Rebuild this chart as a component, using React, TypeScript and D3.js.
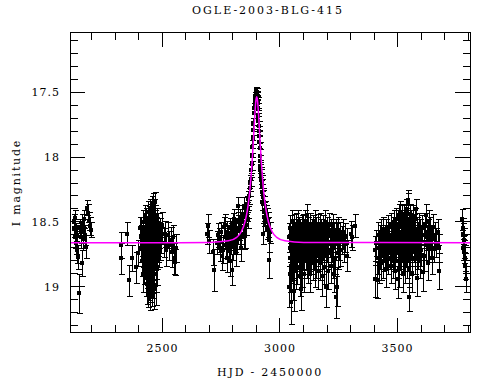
import React from "react";
import * as d3 from "d3";

const title = "OGLE-2003-BLG-415";
const xLabel = "HJD - 2450000";
const yLabel = "I magnitude";
const xMajorTicks = [2500, 3000, 3500];
const yMajorTicks = [17.5, 18, 18.5, 19];
const xTickLabels = ["2500", "3000", "3500"];
const yTickLabels = ["17.5", "18", "18.5", "19"];

// [HJD-2450000, I mag, error]
const season1 = [
  [2124,18.50,0.06],[2126,18.55,0.07],[2128,18.62,0.08],[2130,18.47,0.06],[2132,18.58,0.07],
  [2134,18.66,0.09],[2136,18.72,0.10],[2138,18.60,0.08],[2141,18.77,0.09],[2146,19.05,0.15],
  [2150,18.55,0.07],[2152,18.62,0.08],[2155,18.58,0.08],[2157,18.51,0.07],[2159,18.82,0.10],
  [2162,18.56,0.08],[2164,18.63,0.09],[2166,18.48,0.07],[2170,18.60,0.08],[2173,18.69,0.09],
  [2180,18.39,0.06],[2183,18.43,0.07],[2187,18.49,0.07],[2190,18.53,0.07],[2196,18.56,0.06],
];

const season2 = [
  [2322,18.78,0.12],[2326,18.68,0.10],[2351,18.59,0.09],[2359,18.95,0.12],[2371,18.78,0.10],
  [2388,18.85,0.12],[2398,18.74,0.10],[2404,18.55,0.09],
  [2410,18.62,0.10],[2410,18.70,0.11],[2411,18.55,0.09],
  [2413,18.66,0.10],[2414,18.80,0.12],
  [2416,18.58,0.09],[2417,18.74,0.11],[2416,18.90,0.14],
  [2419,18.50,0.09],[2420,18.68,0.10],
  [2422,18.63,0.10],[2423,18.77,0.11],[2422,18.85,0.13],
  [2425,18.45,0.08],[2426,18.60,0.10],[2425,18.72,0.11],
  [2428,18.55,0.09],[2429,18.68,0.10],[2428,18.82,0.12],[2429,18.93,0.14],
  [2431,18.48,0.09],[2432,18.62,0.10],[2431,18.75,0.11],
  [2434,18.58,0.09],[2435,18.70,0.11],[2434,18.88,0.13],[2435,18.98,0.15],
  [2437,18.42,0.08],[2438,18.66,0.10],[2437,18.79,0.12],[2438,18.93,0.14],
  [2440,18.52,0.09],[2441,18.64,0.10],[2440,18.73,0.11],[2441,18.86,0.13],[2440,19.01,0.15],
  [2443,18.47,0.09],[2444,18.60,0.10],[2443,18.69,0.11],[2444,18.81,0.12],[2443,18.96,0.14],
  [2446,18.40,0.08],[2447,18.56,0.09],[2446,18.72,0.11],[2447,18.90,0.14],[2446,19.03,0.15],
  [2449,18.50,0.09],[2450,18.63,0.10],[2449,18.77,0.11],[2450,18.84,0.13],[2449,18.98,0.14],
  [2452,18.44,0.08],[2453,18.58,0.09],[2452,18.67,0.10],[2453,18.79,0.12],[2452,18.94,0.14],
  [2455,18.38,0.08],[2456,18.53,0.09],[2455,18.65,0.10],[2456,18.74,0.11],[2455,18.88,0.13],[2456,19.00,0.15],
  [2458,18.48,0.09],[2459,18.61,0.10],[2458,18.70,0.11],[2459,18.83,0.12],[2458,18.95,0.14],
  [2461,18.36,0.08],[2462,18.52,0.09],[2461,18.66,0.10],[2462,18.78,0.12],[2461,18.91,0.14],
  [2464,18.40,0.08],[2465,18.57,0.09],[2464,18.69,0.10],[2465,18.86,0.13],[2464,19.02,0.15],
  [2467,18.35,0.08],[2468,18.50,0.09],[2467,18.63,0.10],[2468,18.76,0.11],
  [2470,18.45,0.08],[2471,18.60,0.10],[2470,18.72,0.11],[2471,18.90,0.14],
  [2473,18.55,0.09],[2474,18.68,0.10],[2473,18.82,0.12],[2474,18.99,0.15],
  [2476,18.48,0.09],[2477,18.62,0.10],[2476,18.75,0.11],
  [2479,18.58,0.09],[2480,18.70,0.11],[2479,18.86,0.13],
  [2482,18.52,0.09],[2483,18.66,0.10],
  [2486,18.60,0.10],[2487,18.74,0.11],
  [2490,18.56,0.09],[2491,18.69,0.10],
  [2494,18.64,0.10],
  [2500,18.52,0.10],[2505,18.66,0.11],[2511,18.59,0.10],[2515,18.72,0.12],[2522,18.60,0.10],
  [2529,18.68,0.11],[2535,18.64,0.10],[2541,18.73,0.12],[2545,18.62,0.10],[2550,18.78,0.12],
  [2553,18.81,0.10],[2556,18.70,0.11],
];

const season3 = [
  [2691,18.59,0.08],[2695,18.53,0.09],[2700,18.65,0.09],[2713,18.73,0.10],[2721,18.87,0.16],
  [2730,18.66,0.09],[2738,18.60,0.09],[2741,18.64,0.09],[2745,18.70,0.10],[2750,18.58,0.08],
  [2755,18.76,0.11],[2759,18.72,0.10],[2762,18.54,0.08],[2765,18.62,0.09],[2767,18.52,0.08],
  [2770,18.68,0.10],[2773,18.78,0.11],[2776,18.58,0.09],[2779,18.64,0.09],[2781,18.61,0.09],
  [2784,18.71,0.10],[2786,18.55,0.08],[2788,18.80,0.12],[2791,18.66,0.09],[2793,18.60,0.09],
  [2795,18.87,0.12],[2798,18.57,0.08],[2800,18.69,0.10],[2802,18.51,0.08],[2804,18.63,0.09],
  [2806,18.48,0.08],[2808,18.64,0.09],[2810,18.58,0.08],[2813,18.74,0.10],[2815,18.55,0.08],
  [2818,18.66,0.09],[2820,18.50,0.08],[2823,18.38,0.07],[2826,18.56,0.08],[2828,18.62,0.09],
  [2831,18.47,0.07],[2834,18.59,0.08],[2836,18.70,0.10],[2838,18.44,0.07],[2841,18.54,0.08],
  [2843,18.50,0.08],[2846,18.62,0.09],[2848,18.38,0.07],[2850,18.61,0.09],[2852,18.46,0.07],
  [2855,18.52,0.08],[2858,18.42,0.07],[2860,18.36,0.06],[2862,18.48,0.07],[2864,18.32,0.06],
  [2866,18.40,0.07],[2869,18.30,0.06],[2871,18.24,0.06],[2873,18.20,0.06],[2875,18.17,0.05],
  [2877,18.10,0.05],[2879,18.05,0.05],[2880,17.98,0.05],[2882,17.92,0.05],[2884,17.85,0.05],
  [2886,17.79,0.04],[2887,17.74,0.04],[2889,17.66,0.04],[2890,17.62,0.04],[2892,17.58,0.04],
  [2893,17.56,0.04],[2895,17.53,0.03],[2896,17.52,0.03],[2898,17.50,0.03],[2899,17.54,0.03],
  [2900,17.49,0.03],[2901,17.52,0.03],[2902,17.50,0.03],[2903,17.55,0.03],[2904,17.53,0.03],
  [2905,17.58,0.04],[2906,17.62,0.04],[2907,17.68,0.04],[2908,17.72,0.04],[2909,17.76,0.04],
  [2910,17.80,0.04],[2911,17.84,0.05],[2912,17.88,0.05],[2913,17.93,0.05],[2914,17.99,0.05],
  [2915,18.03,0.05],[2916,18.07,0.05],[2917,18.10,0.05],[2918,18.13,0.05],[2919,18.18,0.06],
  [2920,18.15,0.06],[2922,18.23,0.06],[2923,18.27,0.06],[2924,18.20,0.06],[2925,18.35,0.06],
  [2926,18.59,0.08],[2927,18.30,0.06],[2929,18.31,0.06],[2930,18.42,0.07],[2932,18.36,0.06],
  [2934,18.46,0.07],[2936,18.41,0.07],[2938,18.50,0.07],[2940,18.44,0.07],[2943,18.46,0.07],
  [2945,18.55,0.08],[2947,18.49,0.07],[2950,18.54,0.08],[2952,18.64,0.09],[2953,18.79,0.14],
  [2956,18.58,0.08],
];

const season4 = [
  [3040,18.62,0.11],[3041,18.78,0.12],[3040,19.00,0.16],
  [3043,18.55,0.10],[3044,18.70,0.11],[3043,18.90,0.14],
  [3046,18.66,0.11],[3047,18.84,0.13],[3046,19.12,0.17],
  [3049,18.58,0.10],[3050,18.72,0.12],
  [3052,18.50,0.09],[3053,18.64,0.11],[3052,18.80,0.13],
  [3055,18.60,0.10],[3056,18.75,0.12],[3055,18.95,0.15],
  [3058,18.68,0.11],[3058,19.03,0.16],
  [3061,18.54,0.10],[3062,18.66,0.11],[3061,18.82,0.13],
  [3064,18.62,0.11],[3065,18.76,0.12],
  [3067,18.58,0.10],[3068,18.70,0.11],[3067,18.88,0.14],
  [3070,18.52,0.09],[3071,18.65,0.11],
  [3073,18.60,0.10],[3074,18.74,0.12],[3073,18.85,0.13],
  [3076,18.50,0.09],[3077,18.68,0.11],
  [3079,18.56,0.10],[3080,18.63,0.11],[3079,18.79,0.12],
  [3082,18.66,0.11],[3083,18.92,0.15],
  [3085,18.58,0.10],[3086,18.72,0.12],
  [3089,18.62,0.11],[3090,18.80,0.13],[3089,19.02,0.16],
  [3092,18.55,0.10],[3093,18.68,0.11],
  [3095,18.60,0.10],[3096,18.74,0.12],[3095,18.86,0.14],
  [3098,18.53,0.09],[3099,18.66,0.11],
  [3101,18.64,0.11],[3102,18.78,0.12],
  [3104,18.58,0.10],[3105,18.70,0.11],[3104,18.90,0.14],
  [3108,18.50,0.09],[3109,18.66,0.11],
  [3111,18.62,0.11],[3112,18.75,0.12],
  [3114,18.45,0.09],[3115,18.60,0.10],[3114,18.80,0.13],
  [3117,18.66,0.11],[3118,18.72,0.12],
  [3120,18.56,0.10],[3121,18.70,0.11],[3120,18.84,0.13],
  [3124,18.60,0.10],[3125,18.76,0.12],
  [3128,18.52,0.09],[3129,18.68,0.11],[3128,18.90,0.14],
  [3131,18.64,0.11],[3132,18.78,0.12],
  [3135,18.58,0.10],[3136,18.70,0.11],
  [3139,18.55,0.10],[3140,18.66,0.11],[3139,18.82,0.13],
  [3143,18.62,0.11],[3144,18.74,0.12],
  [3147,18.50,0.09],[3148,18.68,0.11],[3147,18.86,0.14],
  [3151,18.60,0.10],[3152,18.72,0.12],
  [3155,18.56,0.10],[3156,18.66,0.11],[3155,18.80,0.13],
  [3159,18.62,0.11],[3160,18.76,0.12],
  [3163,18.54,0.10],[3164,18.70,0.11],[3163,18.88,0.14],
  [3167,18.60,0.10],[3168,18.74,0.12],
  [3171,18.52,0.09],[3172,18.66,0.11],[3171,18.82,0.13],
  [3175,18.58,0.10],[3176,18.70,0.11],
  [3179,18.62,0.11],[3180,18.78,0.12],[3179,18.92,0.15],
  [3183,18.55,0.10],[3184,18.68,0.11],
  [3187,18.60,0.10],[3188,18.72,0.12],[3187,18.85,0.13],
  [3191,18.50,0.09],[3192,18.66,0.11],
  [3196,18.62,0.11],[3197,18.76,0.12],[3196,19.00,0.16],
  [3200,18.56,0.10],[3201,18.70,0.11],
  [3205,18.60,0.10],[3206,18.74,0.12],[3205,18.88,0.14],
  [3210,18.52,0.09],[3211,18.66,0.11],
  [3215,18.58,0.10],[3216,18.72,0.12],[3215,18.84,0.13],
  [3220,18.62,0.11],[3221,18.70,0.11],
  [3225,18.54,0.10],[3226,18.68,0.11],[3225,18.80,0.13],
  [3230,18.60,0.10],[3231,18.90,0.14],
  [3234,18.66,0.11],[3235,18.78,0.12],
  [3238,18.58,0.10],[3238,19.08,0.16],
  [3242,18.62,0.11],[3243,19.00,0.15],
  [3246,18.56,0.10],[3247,18.74,0.12],
  [3250,18.68,0.11],
  [3255,18.60,0.10],[3256,18.72,0.12],
  [3262,18.64,0.11],
  [3270,18.58,0.10],[3271,18.70,0.11],
  [3278,18.62,0.11],
  [3285,18.66,0.11],[3286,18.76,0.12],
  [3300,18.59,0.10],[3308,18.62,0.10],[3317,18.53,0.09],
];

const season5 = [
  [3405,18.72,0.11],[3406,18.94,0.14],
  [3410,18.66,0.10],[3411,18.95,0.14],
  [3415,18.60,0.10],[3416,18.78,0.12],
  [3420,18.70,0.11],[3421,18.84,0.13],
  [3425,18.62,0.10],[3426,18.74,0.12],
  [3430,18.58,0.10],[3431,18.68,0.11],[3430,18.82,0.13],
  [3435,18.64,0.10],[3436,18.76,0.12],
  [3440,18.56,0.10],[3441,18.70,0.11],[3440,18.80,0.13],
  [3445,18.62,0.10],[3446,18.74,0.12],
  [3450,18.58,0.10],[3451,18.66,0.11],[3450,18.86,0.14],
  [3455,18.64,0.10],[3456,18.72,0.12],
  [3460,18.55,0.10],[3461,18.68,0.11],[3460,18.78,0.12],
  [3465,18.60,0.10],[3466,18.74,0.12],
  [3470,18.52,0.09],[3471,18.66,0.11],[3470,18.84,0.13],
  [3475,18.62,0.10],[3476,18.70,0.11],
  [3480,18.56,0.10],[3481,18.68,0.11],[3480,18.80,0.13],
  [3485,18.50,0.09],[3486,18.64,0.10],[3485,18.76,0.12],
  [3490,18.58,0.10],[3491,18.72,0.12],[3490,18.88,0.14],
  [3495,18.48,0.09],[3496,18.62,0.10],[3495,18.70,0.11],
  [3500,18.54,0.09],[3501,18.66,0.11],[3500,18.80,0.13],[3501,18.94,0.15],
  [3504,18.45,0.09],[3505,18.60,0.10],[3504,18.74,0.12],
  [3508,18.52,0.09],[3509,18.68,0.11],[3508,18.86,0.14],
  [3512,18.42,0.08],[3513,18.58,0.10],[3512,18.72,0.12],
  [3516,18.50,0.09],[3517,18.64,0.10],[3516,18.78,0.12],
  [3520,18.46,0.09],[3521,18.60,0.10],[3520,18.70,0.11],[3521,18.90,0.14],
  [3524,18.55,0.10],[3525,18.68,0.11],
  [3528,18.44,0.08],[3529,18.62,0.10],[3528,18.76,0.12],
  [3532,18.50,0.09],[3533,18.66,0.11],[3532,18.84,0.13],
  [3536,18.40,0.08],[3537,18.58,0.10],[3536,18.72,0.12],
  [3540,18.48,0.09],[3541,18.64,0.10],[3540,18.80,0.13],
  [3544,18.36,0.08],[3545,18.56,0.10],[3544,18.70,0.11],
  [3546,18.33,0.08],
  [3548,18.52,0.09],[3549,18.66,0.11],[3548,18.86,0.14],
  [3550,19.08,0.11],
  [3552,18.44,0.08],[3553,18.62,0.10],[3552,18.76,0.12],
  [3556,18.50,0.09],[3557,18.68,0.11],
  [3560,18.58,0.10],[3561,18.72,0.12],[3560,18.90,0.14],
  [3564,18.46,0.09],[3565,18.64,0.10],
  [3568,18.54,0.10],[3569,18.70,0.11],
  [3572,18.60,0.10],[3573,18.78,0.12],
  [3576,18.48,0.09],[3577,18.66,0.11],
  [3579,18.40,0.08],
  [3582,18.56,0.10],[3583,18.72,0.12],[3582,18.93,0.14],
  [3586,18.62,0.10],[3587,18.74,0.12],
  [3590,18.52,0.09],[3591,18.68,0.11],
  [3595,18.58,0.10],[3596,18.80,0.13],
  [3600,18.64,0.10],[3601,18.72,0.12],
  [3606,18.55,0.10],[3607,18.89,0.14],
  [3612,18.60,0.10],[3613,18.76,0.12],
  [3618,18.52,0.09],[3619,18.68,0.11],
  [3623,18.45,0.09],[3624,18.62,0.10],
  [3628,18.58,0.10],[3629,18.82,0.13],
  [3634,18.50,0.09],[3635,18.70,0.11],
  [3640,18.56,0.10],[3641,18.66,0.11],
  [3646,18.62,0.10],[3647,18.78,0.12],
  [3652,18.54,0.10],[3653,18.70,0.11],
  [3658,18.60,0.10],[3664,18.66,0.11],[3670,18.58,0.10],
  [3676,18.70,0.11],[3677,18.88,0.14],
];

const season6 = [
  [3775,18.48,0.08],[3778,18.70,0.09],[3779,18.55,0.08],[3780,18.59,0.08],[3782,18.64,0.09],
  [3783,18.73,0.09],[3784,18.69,0.09],[3786,18.78,0.10],[3788,18.84,0.10],[3790,18.94,0.10],
];

// model curve: [HJD-2450000, I mag]
const modelT = [2107,2500,2701,2781,2816,2836,2851,2861,2869,2876,2881,2886,2891,2895,2898,2901,
  2904,2907,2911,2916,2921,2926,2933,2941,2951,2966,2986,3021,3101,3808];
const modelMag = [18.66,18.66,18.658,18.646,18.619,18.574,18.501,18.413,18.305,18.171,18.047,17.899,
  17.737,17.619,17.557,17.534,17.557,17.619,17.737,17.899,18.047,18.171,18.305,18.413,18.501,18.574,
  18.619,18.646,18.658,18.66];

const L = 70, R = 470, T = 32, B = 332.5;
const FONT = "'DejaVu Serif', 'Liberation Serif', serif";

export default function App() {
  const x = d3.scaleLinear().domain([2107, 3808]).range([L, R]);
  const y = d3.scaleLinear().domain([17.035, 19.353]).range([T, B]);
  const xMinor = d3.range(2200, 3801, 100);
  const yMinor = d3.range(171, 194).map((v) => v / 10);
  const all = [...season1, ...season2, ...season3, ...season4, ...season5, ...season6];
  const modelPts = modelT.map((t, i) => [t, modelMag[i]] as [number, number]);
  const line = d3.line<[number, number]>().x((d) => x(d[0])).y((d) => y(d[1])).curve(d3.curveMonotoneX);
  const cap = 3;
  const sq = 4;
  return (
    <div style={{ position: "absolute", left: 0, top: 0 }}>
      <svg width={490} height={380} style={{ display: "block", background: "#fff" }}>
        <defs>
          <clipPath id="clip"><rect x={L} y={T} width={R - L} height={B - T} /></clipPath>
        </defs>
        <g clipPath="url(#clip)" shapeRendering="crispEdges">
          {all.map((d, i) => {
            const cx = Math.round(x(d[0])) + 0.5;
            const y1 = Math.round(y(d[1] - d[2])) + 0.5;
            const y2 = Math.round(y(d[1] + d[2])) + 0.5;
            const cy = Math.round(y(d[1]));
            return (
              <g key={i} stroke="#000" strokeWidth={1}>
                <line x1={cx} x2={cx} y1={y1} y2={y2} />
                <line x1={cx - cap} x2={cx + cap} y1={y1} y2={y1} />
                <line x1={cx - cap} x2={cx + cap} y1={y2} y2={y2} />
                <rect x={cx - 0.5 - sq / 2} y={cy - sq / 2} width={sq} height={sq} fill="#000" stroke="none" />
              </g>
            );
          })}
        </g>
        <g clipPath="url(#clip)">
          <path d={line(modelPts) || ""} fill="none" stroke="#ff00ff" strokeWidth={1.5} />
        </g>
        <g stroke="#000" strokeWidth={1} shapeRendering="crispEdges">
          <rect x={L} y={T} width={R - L} height={B - T} fill="none" />
          {xMinor.map((t) => {
            const major = xMajorTicks.includes(t);
            const len = major ? 15 : 7.5;
            return (
              <g key={"xt" + t}>
                <line x1={x(t)} x2={x(t)} y1={B} y2={B - len} />
                <line x1={x(t)} x2={x(t)} y1={T} y2={T + len} />
              </g>
            );
          })}
          {yMinor.map((m) => {
            const major = yMajorTicks.some((v) => Math.abs(v - m) < 1e-6);
            const len = major ? 15 : 7.5;
            return (
              <g key={"yt" + m}>
                <line x1={L} x2={L + len} y1={y(m)} y2={y(m)} />
                <line x1={R} x2={R - len} y1={y(m)} y2={y(m)} />
              </g>
            );
          })}
        </g>
        <g fontFamily={FONT} fontSize={11} fill="#000">
          {xMajorTicks.map((t, i) => (
            <text key={"xl" + t} x={x(t)} y={351.5} textAnchor="middle" letterSpacing={1}>{xTickLabels[i]}</text>
          ))}
          {yMajorTicks.map((m, i) => (
            <text key={"yl" + m} x={60} y={y(m) + 4} textAnchor="end" letterSpacing={1}>{yTickLabels[i]}</text>
          ))}
          <text x={268} y={14} textAnchor="middle" letterSpacing={2}>{title}</text>
          <text x={270} y={376} textAnchor="middle" letterSpacing={1.8}>{xLabel}</text>
          <text transform={`translate(20,182.5) rotate(-90)`} textAnchor="middle" letterSpacing={1.8}>{yLabel}</text>
        </g>
      </svg>
    </div>
  );
}
